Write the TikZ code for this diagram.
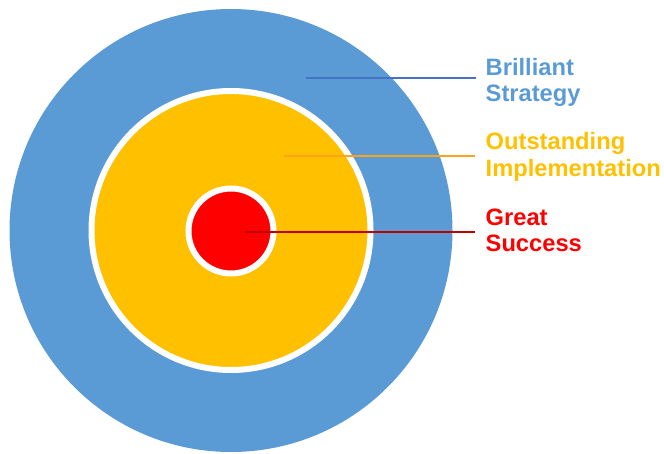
\documentclass[tikz,border=0pt]{standalone}
\usepackage{fontspec}
\setmainfont{Liberation Sans}
\definecolor{ringblue}{HTML}{5B9BD5}
\definecolor{ringyellow}{HTML}{FFC000}
\definecolor{ringred}{HTML}{FF0000}
\definecolor{leadblue}{HTML}{4472C4}
\definecolor{leadorange}{HTML}{FFA319}
\definecolor{leadred}{HTML}{C00000}
\begin{document}
\begin{tikzpicture}[x=1pt,y=-1pt,
  ring/.style={circle, inner sep=0pt, outer sep=0pt},
  lead/.style={line width=2.2pt},
  tag/.style={anchor=base west, inner sep=0pt, align=left,
    font=\fontsize{23.7}{26.6}\selectfont\bfseries}]
  \useasboundingbox (0,0) rectangle (664,454);
  % concentric target
  \node[ring, fill=ringblue, minimum size=443pt] (outer) at (231,230.5) {};
  \node[ring, fill=ringyellow, draw=white, line width=6pt, minimum size=279pt] (middle) at (231,230.5) {};
  \node[ring, fill=ringred, draw=white, line width=6pt, minimum size=85pt] (inner) at (231,231) {};
  % leader line end points
  \coordinate (s1) at (306,78);
  \coordinate (e1) at (476,78);
  \coordinate (s2) at (284,156.3);
  \coordinate (e2) at (475,156.3);
  \coordinate (s3) at (245,232);
  \coordinate (e3) at (475,232);
  \draw[lead, leadblue] (s1) -- (e1);
  \draw[lead, leadorange] (s2) -- (e2);
  \draw[lead, leadred] (s3) -- (e3);
  % labels (anchored at the baseline of their second line)
  \node[tag, text=ringblue] (strategy) at (485.5,101.7) {Brilliant\\Strategy};
  \node[tag, text=ringyellow] (implementation) at (485.5,176.3) {Outstanding\\Implementation};
  \node[tag, text=ringred] (success) at (485.5,251.7) {Great\\Success};
\end{tikzpicture}
\end{document}
